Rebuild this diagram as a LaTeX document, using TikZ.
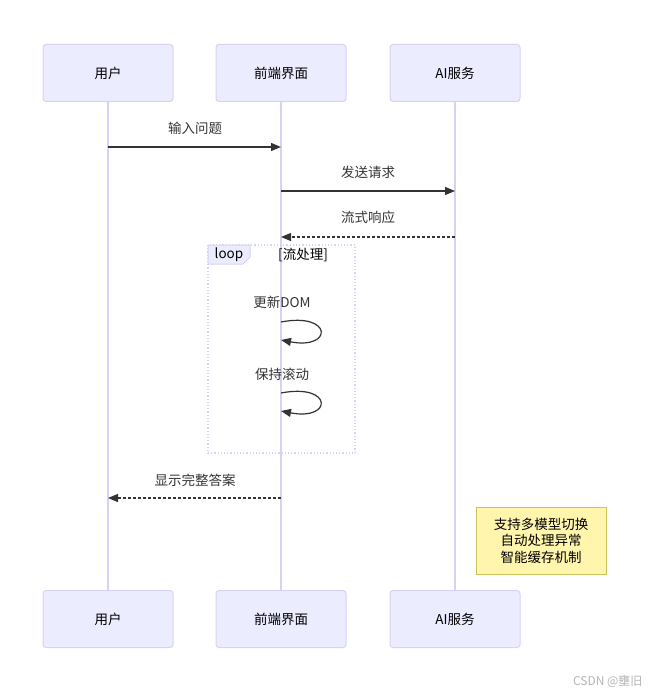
\documentclass[tikz,border=0pt]{standalone}
\usepackage{fontspec}
\setmainfont{Noto Sans CJK SC}
\usepackage{tikz}
\usetikzlibrary{arrows.meta,positioning,calc}
\definecolor{actfill}{HTML}{ECECFF}
\definecolor{actline}{HTML}{D9D1F5}
\definecolor{ink}{HTML}{333333}
\definecolor{notefill}{HTML}{FFF5AD}
\definecolor{noteline}{HTML}{C8C35A}
\definecolor{wmark}{HTML}{B4B4B4}
\newcommand{\selfmsg}[1]{\draw[msg] (fe |- 0,#1) .. controls (333,#1-10) and (333,#1+28) .. (fe |- 0,#1+18);}

\begin{document}
\begin{tikzpicture}[x=1pt,y=-1pt,font=\fontsize{13.5}{15}\selectfont,
  actor/.style={draw=actline,fill=actfill,rounded corners=3pt,line width=1pt,
    minimum width=130pt,minimum height=57pt,text=black},
  life/.style={draw=actline,line width=1.5pt},
  msg/.style={draw=ink,line width=1.2pt,-{Triangle[length=10pt,width=8pt]}},
  reply/.style={msg,dash pattern=on 3pt off 2pt},
  lbl/.style={text=ink,inner sep=1pt}]
  \useasboundingbox (0,0) rectangle (650,695);
  % actors, top and bottom
  \foreach \n/\x/\t in {usr/108/用户, fe/281/前端界面, ai/455/AI服务}
    { \node[actor] (\n) at (\x,73) {\t};
      \node[actor] (\n-b) at (\x,619) {\t};
      \draw[life] (\n.south) -- (\n-b.north); }
  % loop frame
  \draw[actline,line width=1.2pt,dotted] (208,245) rectangle (355,453);
  \draw[actline,fill=actfill,line width=1pt] (208,245) -- (250,245) -- (250,257) -- (243,264) -- (208,264) -- cycle;
  \node[lbl,text=black] (lp) at (229,255) {loop};
  \node[lbl,text=black] (lpc) at (303,255) {[流处理]};
  % messages
  \node[lbl] (m1) at (195,128) {输入问题};
  \draw[msg] (usr |- 0,147) -- (fe |- 0,147);
  \node[lbl] (m2) at (368,172) {发送请求};
  \draw[msg] (fe |- 0,191) -- (ai |- 0,191);
  \node[lbl] (m3) at (368,217) {流式响应};
  \draw[reply] (ai |- 0,237) -- (fe |- 0,237);
  \node[lbl] (m4) at (282,302) {更新DOM};
  \selfmsg{322}
  \node[lbl] (m5) at (282,374) {保持滚动};
  \selfmsg{393}
  \node[lbl] (m6) at (195,480) {显示完整答案};
  \draw[reply] (fe |- 0,498) -- (usr |- 0,498);
  % note
  \node[draw=noteline,fill=notefill,line width=1pt,minimum width=130pt,minimum height=67pt,
    align=center,text=black,font=\fontsize{13.5}{16.5}\selectfont] (note) at (541,540.5)
    {支持多模型切换\\自动处理异常\\智能缓存机制};
  \node[text=wmark,font=\fontsize{12}{13}\selectfont,anchor=east] (wm) at (646,681) {CSDN @壅旧};
\end{tikzpicture}
\end{document}
